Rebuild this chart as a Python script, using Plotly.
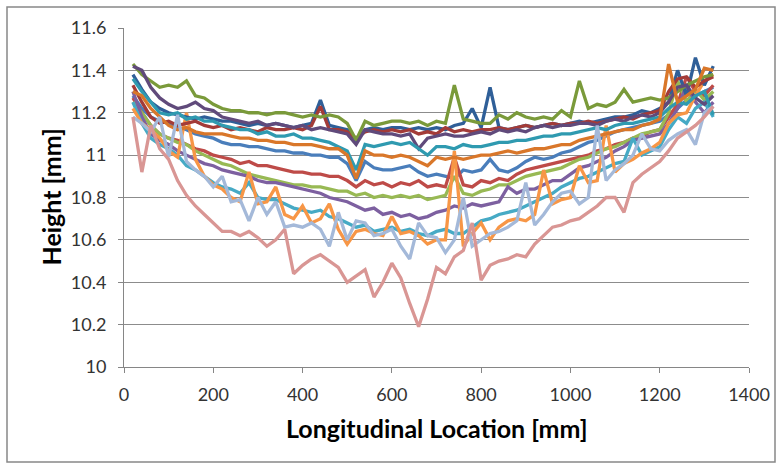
import plotly.graph_objects as go

# Longitudinal locations (mm) shared by all series
x_mm = [20, 40, 60, 80, 100, 120, 140, 160, 180, 200,
        220, 240, 260, 280, 300, 320, 340, 360, 380, 400,
        420, 440, 460, 480, 500, 520, 540, 560, 580, 600,
        620, 640, 660, 680, 700, 720, 740, 760, 780, 800,
        820, 840, 860, 880, 900, 920, 940, 960, 980, 1000,
        1020, 1040, 1060, 1080, 1100, 1120, 1140, 1160, 1180, 1200,
        1220, 1240, 1260, 1280, 1300, 1320]

blue = [11.28, 11.22, 11.18, 11.16, 11.15, 11.13, 11.12, 11.10, 11.09, 11.08,
        11.06, 11.05, 11.05, 11.04, 11.04, 11.03, 11.02, 11.02, 11.01, 11.01,
        11.00, 11.00, 10.99, 10.99, 10.96, 10.88, 10.97, 10.94, 10.93, 10.93,
        10.94, 10.95, 10.92, 10.90, 10.91, 10.90, 10.89, 10.93, 10.92, 10.93,
        10.98, 10.93, 10.92, 10.94, 10.97, 10.99, 10.98, 10.99, 11.01, 11.02,
        11.04, 11.06, 11.07, 11.09, 11.11, 11.12, 11.13, 11.14, 11.15, 11.16,
        11.19, 11.22, 11.26, 11.28, 11.30, 11.32]
red = [11.27, 11.20, 11.14, 11.10, 11.08, 11.07, 11.05, 11.03, 11.02, 11.00,
       10.99, 10.98, 10.96, 10.97, 10.95, 10.95, 10.94, 10.93, 10.92, 10.92,
       10.91, 10.91, 10.90, 10.90, 10.88, 10.85, 10.88, 10.86, 10.87, 10.85,
       10.87, 10.86, 10.88, 10.85, 10.86, 10.85, 10.99, 10.86, 10.85, 10.88,
       10.87, 10.89, 10.88, 10.91, 10.93, 10.94, 10.95, 10.96, 10.97, 10.98,
       10.99, 11.00, 11.02, 11.03, 11.05, 11.06, 11.08, 11.09, 11.11, 11.12,
       11.18, 11.24, 11.37, 11.30, 11.28, 11.33]
green = [11.25, 11.20, 11.14, 11.10, 11.08, 11.06, 11.05, 11.02, 11.00, 10.98,
         10.96, 10.95, 10.93, 10.91, 10.90, 10.89, 10.88, 10.87, 10.86, 10.86,
         10.85, 10.85, 10.84, 10.83, 10.83, 10.81, 10.82, 10.80, 10.81, 10.80,
         10.81, 10.80, 10.81, 10.79, 10.80, 10.81, 10.90, 10.82, 10.81, 10.83,
         10.84, 10.86, 10.86, 10.88, 10.90, 10.91, 10.92, 10.93, 10.94, 10.96,
         10.98, 10.99, 11.01, 11.03, 11.04, 11.06, 11.08, 11.10, 11.11, 11.12,
         11.20, 11.35, 11.25, 11.31, 11.26, 11.30]
purple = [11.30, 11.18, 11.10, 11.07, 11.05, 11.02, 11.00, 10.98, 10.96, 10.95,
          10.93, 10.92, 10.91, 10.90, 10.88, 10.87, 10.87, 10.86, 10.85, 10.84,
          10.83, 10.82, 10.80, 10.79, 10.78, 10.76, 10.74, 10.75, 10.72, 10.73,
          10.71, 10.72, 10.70, 10.71, 10.73, 10.74, 10.76, 10.75, 10.77, 10.76,
          10.77, 10.78, 10.85, 10.82, 10.84, 10.84, 10.86, 10.88, 10.88, 10.91,
          10.94, 10.95, 10.97, 10.99, 11.02, 11.04, 11.07, 11.08, 11.09, 11.10,
          11.15, 11.22, 11.33, 11.25, 11.20, 11.25]
aqua = [11.25, 11.15, 11.08, 11.05, 11.03, 11.00, 10.95, 10.93, 10.90, 10.87,
        10.85, 10.84, 10.82, 10.87, 10.80, 10.79, 10.79, 10.77, 10.75, 10.74,
        10.73, 10.74, 10.71, 10.70, 10.68, 10.66, 10.67, 10.64, 10.65, 10.66,
        10.64, 10.65, 10.63, 10.62, 10.64, 10.65, 10.63, 10.63, 10.66, 10.69,
        10.70, 10.72, 10.73, 10.74, 10.76, 10.78, 10.80, 10.82, 10.85, 10.87,
        10.89, 10.90, 10.92, 10.94, 10.96, 10.97, 11.08, 11.00, 11.02, 11.04,
        11.12, 11.18, 11.15, 11.22, 11.25, 11.18]
orange = [11.22, 11.15, 11.12, 11.08, 11.02, 10.99, 11.20, 10.98, 10.90, 10.86,
          10.84, 10.80, 10.78, 10.92, 10.77, 10.78, 10.85, 10.72, 10.70, 10.76,
          10.68, 10.70, 10.77, 10.65, 10.58, 10.64, 10.65, 10.63, 10.62, 10.71,
          10.63, 10.64, 10.62, 10.58, 10.60, 10.60, 11.02, 10.57, 10.63, 10.68,
          10.60, 10.66, 10.69, 10.70, 10.69, 10.72, 10.93, 10.77, 10.79, 10.80,
          10.95, 10.87, 10.88, 11.14, 10.92, 10.96, 10.98, 11.01, 11.03, 11.06,
          11.15, 11.19, 11.20, 11.28, 11.35, 11.38]
dark_blue = [11.38, 11.31, 11.25, 11.22, 11.20, 11.19, 11.18, 11.17, 11.18, 11.17,
             11.16, 11.16, 11.15, 11.14, 11.15, 11.14, 11.15, 11.14, 11.13, 11.14,
             11.15, 11.26, 11.14, 11.13, 11.12, 11.07, 11.12, 11.13, 11.12, 11.13,
             11.13, 11.12, 11.13, 11.12, 11.13, 11.12, 11.14, 11.15, 11.22, 11.13,
             11.32, 11.13, 11.12, 11.13, 11.14, 11.13, 11.14, 11.15, 11.14, 11.15,
             11.16, 11.15, 11.16, 11.17, 11.18, 11.18, 11.19, 11.21, 11.20, 11.22,
             11.25, 11.40, 11.28, 11.46, 11.33, 11.42]
dark_red = [11.33, 11.25, 11.18, 11.15, 11.16, 11.14, 11.15, 11.16, 11.14, 11.13,
            11.14, 11.12, 11.13, 11.12, 11.11, 11.13, 11.12, 11.12, 11.13, 11.12,
            11.14, 11.23, 11.12, 11.12, 11.11, 11.08, 11.11, 11.12, 11.11, 11.12,
            11.11, 11.12, 11.10, 11.11, 11.10, 11.13, 11.11, 11.12, 11.11, 11.12,
            11.12, 11.13, 11.12, 11.13, 11.14, 11.13, 11.14, 11.15, 11.14, 11.15,
            11.15, 11.16, 11.15, 11.16, 11.17, 11.18, 11.17, 11.19, 11.20, 11.21,
            11.30, 11.36, 11.37, 11.32, 11.35, 11.37]
dark_green = [11.43, 11.38, 11.35, 11.32, 11.33, 11.32, 11.35, 11.28, 11.27, 11.24,
              11.22, 11.21, 11.21, 11.20, 11.20, 11.19, 11.20, 11.20, 11.19, 11.18,
              11.19, 11.18, 11.19, 11.18, 11.15, 11.07, 11.16, 11.14, 11.15, 11.16,
              11.16, 11.15, 11.16, 11.14, 11.16, 11.15, 11.33, 11.17, 11.16, 11.15,
              11.15, 11.19, 11.17, 11.20, 11.18, 11.17, 11.18, 11.17, 11.21, 11.18,
              11.35, 11.22, 11.24, 11.23, 11.25, 11.31, 11.25, 11.26, 11.27, 11.26,
              11.27, 11.30, 11.33, 11.35, 11.37, 11.38]
dark_purple = [11.42, 11.40, 11.32, 11.27, 11.24, 11.22, 11.23, 11.25, 11.22, 11.21,
               11.18, 11.17, 11.16, 11.15, 11.16, 11.14, 11.15, 11.14, 11.13, 11.14,
               11.12, 11.13, 11.12, 11.11, 11.10, 11.05, 11.12, 11.11, 11.10, 11.10,
               11.09, 11.10, 11.03, 11.08, 11.09, 11.10, 11.09, 11.09, 11.10, 11.11,
               11.10, 11.12, 11.11, 11.12, 11.11, 11.13, 11.14, 11.13, 11.14, 11.14,
               11.15, 11.15, 11.14, 11.16, 11.17, 11.16, 11.18, 11.19, 11.18, 11.20,
               11.25, 11.32, 11.33, 11.27, 11.24, 11.28]
dark_aqua = [11.36, 11.30, 11.25, 11.20, 11.19, 11.20, 11.17, 11.18, 11.16, 11.16,
             11.14, 11.13, 11.12, 11.12, 11.10, 11.11, 11.09, 11.09, 11.10, 11.08,
             11.08, 11.07, 11.06, 11.04, 11.02, 10.93, 11.05, 11.04, 11.05, 11.06,
             11.05, 11.06, 11.03, 11.00, 11.04, 11.04, 11.03, 11.05, 11.04, 11.04,
             11.05, 11.06, 11.06, 11.07, 11.07, 11.08, 11.09, 11.09, 11.10, 11.10,
             11.11, 11.12, 11.13, 11.12, 11.14, 11.15, 11.15, 11.16, 11.17, 11.18,
             11.22, 11.25, 11.24, 11.28, 11.30, 11.19]
dark_orange = [11.30, 11.28, 11.22, 11.18, 11.14, 11.12, 11.13, 11.11, 11.10, 11.10,
               11.10, 11.09, 11.08, 11.08, 11.07, 11.07, 11.06, 11.06, 11.05, 11.05,
               11.05, 11.04, 11.03, 11.03, 11.00, 10.89, 11.02, 11.00, 11.00, 10.99,
               11.00, 10.99, 10.97, 10.95, 10.99, 10.98, 10.99, 10.98, 10.99, 11.00,
               11.00, 11.01, 11.02, 11.01, 11.02, 11.03, 11.03, 11.04, 11.05, 11.05,
               11.07, 11.08, 11.09, 11.10, 11.11, 11.12, 11.12, 11.14, 11.15, 11.17,
               11.43, 11.25, 11.28, 11.31, 11.41, 11.40]
light_blue = [11.18, 11.15, 11.11, 11.18, 10.99, 11.19, 10.97, 10.93, 10.90, 10.85,
              10.90, 10.78, 10.79, 10.69, 10.80, 10.72, 10.78, 10.66, 10.67, 10.66,
              10.68, 10.65, 10.57, 10.73, 10.60, 10.69, 10.68, 10.62, 10.63, 10.65,
              10.57, 10.51, 10.68, 10.62, 10.61, 10.54, 10.60, 10.80, 10.57, 10.60,
              10.63, 10.64, 10.66, 10.69, 10.87, 10.67, 10.72, 10.78, 10.82, 10.83,
              10.77, 10.80, 11.14, 10.88, 10.93, 10.96, 11.00, 11.10, 11.03, 11.02,
              11.07, 11.10, 11.12, 11.05, 11.20, 11.23]
pink = [11.18, 10.92, 11.14, 11.03, 10.98, 10.88, 10.81, 10.76, 10.72, 10.68,
        10.64, 10.64, 10.62, 10.64, 10.61, 10.57, 10.60, 10.65, 10.44, 10.48,
        10.51, 10.53, 10.50, 10.47, 10.40, 10.43, 10.46, 10.33, 10.40, 10.49,
        10.42, 10.30, 10.19, 10.32, 10.47, 10.44, 10.52, 10.55, 10.68, 10.41,
        10.48, 10.50, 10.51, 10.53, 10.52, 10.58, 10.62, 10.66, 10.67, 10.69,
        10.70, 10.73, 10.76, 10.80, 10.80, 10.73, 10.87, 10.91, 10.94, 10.97,
        11.02, 11.08, 11.11, 11.14, 11.18, 11.23]

series = [
    (blue, "#4A7EBB"), (red, "#BE4B48"), (green, "#98B954"), (purple, "#7D60A0"),
    (aqua, "#46AAC5"), (orange, "#F79646"), (dark_blue, "#2F5F98"),
    (dark_red, "#A33B38"), (dark_green, "#7A9A3A"), (dark_purple, "#604A7B"),
    (dark_aqua, "#2F9AB0"), (dark_orange, "#D9772A"), (light_blue, "#A4B9D9"),
    (pink, "#D99694"),
]

y_ticks = [10, 10.2, 10.4, 10.6, 10.8, 11, 11.2, 11.4, 11.6]
y_tick_text = ["10", "10.2", "10.4", "10.6", "10.8", "11", "11.2", "11.4", "11.6"]
x_ticks = [0, 200, 400, 600, 800, 1000, 1200, 1400]
x_tick_text = ["0", "200", "400", "600", "800", "1000", "1200", "1400"]

fig = go.Figure()
for vals, col in series:
    fig.add_trace(go.Scatter(x=x_mm, y=vals, mode="lines",
                             line=dict(color=col, width=3.3), showlegend=False,
                             hoverinfo="skip"))

FONT = "Lato"
fig.update_layout(
    width=782, height=465,
    margin=dict(l=124, r=33, t=28, b=98),
    paper_bgcolor="white", plot_bgcolor="white",
    font=dict(family=FONT, size=18, color="#333333"),
    xaxis=dict(range=[0, 1400], tickvals=x_ticks, ticktext=x_tick_text,
               showgrid=False, zeroline=False, showline=True,
               linecolor="#868686", linewidth=1, ticks="outside",
               ticklen=5, tickcolor="#868686", tickfont=dict(size=18),
               ticklabelstandoff=6),
    yaxis=dict(range=[10, 11.6], tickvals=y_ticks, ticktext=y_tick_text,
               showgrid=True, gridcolor="#8C8C8C", gridwidth=1,
               zeroline=False, showline=True, linecolor="#868686",
               linewidth=1, ticks="outside", ticklen=5,
               tickcolor="#868686", tickfont=dict(size=18),
               ticklabelstandoff=8),
    shapes=[dict(type="rect", xref="paper", yref="paper",
                 x0=-0.1872, x1=1.0416, y0=-0.2802, y1=1.0619,
                 line=dict(color="#888888", width=1.5))],
    annotations=[
        dict(text="<b>Longitudinal Location [mm]</b>", xref="paper",
             yref="paper", x=0.5, y=-0.18, xanchor="center",
             yanchor="middle", showarrow=False,
             font=dict(family=FONT, size=25, color="#000000")),
        dict(text="<b>Height [mm]</b>", xref="paper", yref="paper",
             x=-0.1184, y=0.5, xanchor="center", yanchor="middle",
             textangle=-90, showarrow=False,
             font=dict(family=FONT, size=25, color="#000000")),
    ],
)

fig.write_html("out.html")
